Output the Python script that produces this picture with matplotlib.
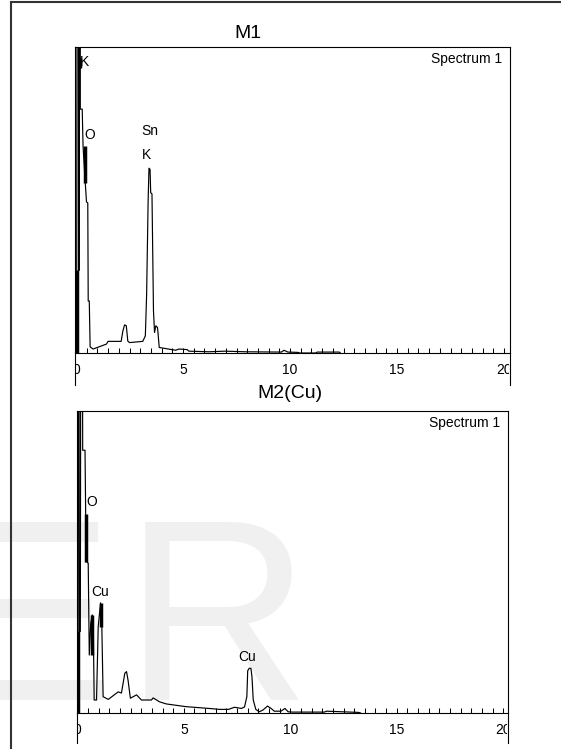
import matplotlib.pyplot as plt
from matplotlib.lines import Line2D
from matplotlib.ticker import MultipleLocator
from matplotlib.transforms import Bbox, TransformedBbox

plt.rcParams['font.family'] = ['Liberation Sans', 'DejaVu Sans']

W, H = 561, 749

# M1 spectrum: energy (keV) and counts (% of panel height, >100 is off scale)
m1_kev = [0.0, 0.03, 0.05, 0.11, 0.12, 0.15, 0.17, 0.19, 0.2, 0.29, 0.33, 0.43, 0.49, 0.55,
          0.57, 0.62, 0.66, 0.8, 1.42, 1.5, 2.11, 2.19, 2.27, 2.35, 2.42, 2.5, 3.12, 3.24,
          3.30, 3.37, 3.41, 3.46, 3.49, 3.55, 3.62, 3.67, 3.73, 3.81, 3.89, 4.66, 4.81, 5.2,
          5.27, 6.2, 6.97, 7.9, 9.6, 9.72, 9.9, 10.37, 10.45, 11.2, 11.27, 12.3, 12.35]
m1_cts = [0, 0, 130, 130, 27, 27, 130, 130, 79.7, 79.7, 67.5, 56, 49.4, 49,
          17, 17, 2, 1.3, 2.9, 3.8, 3.8, 7.2, 9.2, 8.9, 3.9, 3.4, 3.8, 5.6,
          19.1, 49.7, 60.4, 60, 52.4, 52, 13.8, 6.7, 8.9, 8.3, 1.8, 0.9, 1.3, 1.1,
          0.6, 0.4, 0.6, 0.4, 0.3, 0.9, 0.3, 0.2, 0, 0, 0.3, 0.3, 0]
m1_bar_kev = [0.03, 0.19, 0.40]
m1_bar_lo = [0, 93, 55.5]
m1_bar_hi = [27, 96.5, 67.6]
m1_lab_txt = ['K', 'O', 'Sn', 'K']
m1_lab_kev = [0.42, 0.63, 3.45, 3.30]
m1_lab_cts = [95, 71.2, 72.5, 64.7]

# M2(Cu) spectrum
m2_kev = [0.0, 0.02, 0.04, 0.08, 0.09, 0.14, 0.16, 0.24, 0.25, 0.36, 0.39, 0.44, 0.51, 0.56,
          0.63, 0.70, 0.75, 0.79, 0.90, 0.98, 1.09, 1.15, 1.21, 1.45, 1.92, 2.07, 2.23, 2.31,
          2.38, 2.49, 2.78, 3.01, 3.48, 3.56, 3.86, 4.18, 5.1, 6.2, 6.67, 7.1, 7.38, 7.7,
          7.85, 7.96, 8.0, 8.07, 8.15, 8.2, 8.26, 8.38, 8.54, 8.72, 8.93, 9.1, 9.25, 9.56,
          9.75, 9.9, 10.1, 11.6, 11.7, 13.2, 13.3]
m2_cts = [0, 0, 130, 130, 27, 27, 130, 130, 87, 87, 66, 50, 49.6, 19.2,
          29.8, 32.5, 27.5, 4.3, 4.3, 28.6, 36.5, 28.6, 5.4, 4.5, 7, 6.6, 13.2, 13.7,
          10.9, 4.9, 6, 4.3, 4.3, 5, 3.7, 3.0, 2.1, 1.5, 1.2, 1.2, 1.9, 1.5,
          2.0, 5.4, 14, 14.8, 14.8, 12, 4.3, 1.2, 0.4, 1.0, 2.3, 1.5, 0.6, 0.6,
          1.5, 0.4, 0.3, 0.3, 0.6, 0.2, 0]
m2_bar_kev = [0.03, 0.41, 0.69, 1.11]
m2_bar_lo = [0, 50, 19.2, 28.6]
m2_bar_hi = [27, 66, 32.5, 36.5]
m2_lab_txt = ['O', 'Cu', 'Cu']
m2_lab_kev = [0.67, 1.06, 7.95]
m2_lab_cts = [69.9, 40, 18.4]

fig = plt.figure(figsize=(W / 100, H / 100), dpi=100)

# faint watermark letters
fig.text(-58 / W, 1 - 700 / H, 'E', fontsize=186, color='#f0f0f0', ha='left', va='baseline', zorder=-1)
fig.text(124 / W, 1 - 700 / H, 'R', fontsize=186, color='#f0f0f0', ha='left', va='baseline', zorder=-1)


def panel(px_left, px_right, px_top, px_bottom, px_ext, xlim, kev, cts,
          bar_kev, bar_lo, bar_hi, lab_txt, lab_kev, lab_cts):
    ax = fig.add_axes([px_left / W, 1 - px_bottom / H,
                       (px_right - px_left) / W, (px_bottom - px_top) / H])
    ax.set_facecolor('none')
    ax.plot(kev, cts, color='black', lw=0.85)
    ax.vlines(bar_kev, bar_lo, bar_hi, color='black', lw=2.5)
    for t, x, y in zip(lab_txt, lab_kev, lab_cts):
        ax.text(x, y, t, ha='center', va='center', fontsize=10)
    ax.text(0.983, 1 - 12 / (px_bottom - px_top), 'Spectrum 1', transform=ax.transAxes,
            ha='right', va='center', fontsize=10)
    ax.set_xlim(*xlim)
    ax.set_ylim(0, 100)
    ax.set_yticks([])
    ax.xaxis.set_major_locator(MultipleLocator(5))
    ax.xaxis.set_minor_locator(MultipleLocator(0.5))
    ax.tick_params(axis='x', which='both', direction='in', length=3.5, width=0.75,
                   pad=7, labelsize=10)
    for s in ax.spines.values():
        s.set_linewidth(0.8)
    ext = px_ext / (px_bottom - px_top)
    for xx in (0, 1):
        ax.plot([xx, xx], [0, -ext], transform=ax.transAxes, clip_on=False,
                color='black', lw=0.8)
    # tick labels are cut by the frame sides, as in the instrument printout
    clip = TransformedBbox(Bbox([[0.003, -ext], [0.998, 1]]), ax.transAxes)
    for lbl in ax.get_xticklabels():
        lbl.set_clip_box(clip)
        lbl.set_clip_on(True)
    return ax


panel(75, 510, 47, 353, 32, (-0.047, 20.28), m1_kev, m1_cts, m1_bar_kev, m1_bar_lo,
      m1_bar_hi, m1_lab_txt, m1_lab_kev, m1_lab_cts)
panel(76.5, 507.5, 411, 713, 30, (-0.04, 20.2), m2_kev, m2_cts, m2_bar_kev, m2_bar_lo,
      m2_bar_hi, m2_lab_txt, m2_lab_kev, m2_lab_cts)

fig.text(247.7 / W, 1 - 34 / H, 'M1', ha='center', va='center', fontsize=14)
fig.text(289.7 / W, 1 - 393 / H, 'M2(Cu)', ha='center', va='center', fontsize=14)

# outer frame (left and top edges)
fig.add_artist(Line2D([11 / W, 11 / W], [0, 1 - 2 / H], transform=fig.transFigure,
                      color='#333333', lw=1.5))
fig.add_artist(Line2D([11 / W, 1], [1 - 2 / H, 1 - 2 / H], transform=fig.transFigure,
                      color='#333333', lw=1.5))

fig.savefig('out.png', dpi=100)
